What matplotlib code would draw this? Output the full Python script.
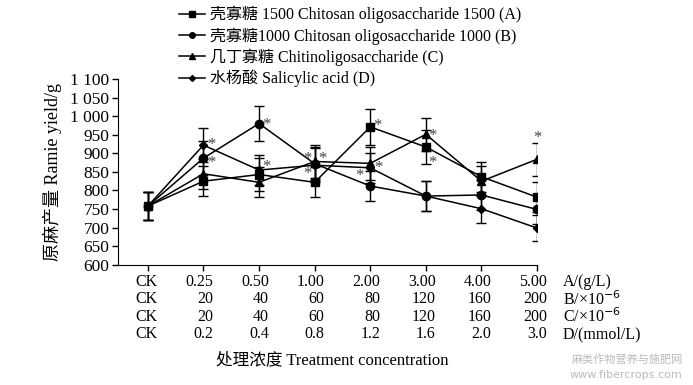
import numpy as np
import matplotlib
matplotlib.use("Agg")
import matplotlib.pyplot as plt
from matplotlib.lines import Line2D

plt.rcParams['font.family'] = ['Liberation Serif', 'Noto Sans CJK SC', 'DejaVu Sans']
plt.rcParams['axes.unicode_minus'] = False

# treatment levels (row labels under the x axis)
row_a = ['CK', '0.25', '0.50', '1.00', '2.00', '3.00', '4.00', '5.00']
row_b = ['CK', '20', '40', '60', '80', '120', '160', '200']
row_c = ['CK', '20', '40', '60', '80', '120', '160', '200']
row_d = ['CK', '0.2', '0.4', '0.8', '1.2', '1.6', '2.0', '3.0']
row_names = ['A/(g/L)', 'B/×10$^{-6}$', 'C/×10$^{-6}$', 'D/(mmol/L)']

# ramie yield (g)
yield_a = [758, 825, 843, 822, 971, 917, 837, 782]
yield_b = [758, 887, 980, 872, 812, 785, 788, 749]
yield_c = [758, 845, 822, 878, 873, 951, 825, 884]
yield_d = [758, 922, 855, 868, 861, 785, 751, 699]
err_a = [38, 40, 45, 40, 48, 45, 40, 40]
err_b = [38, 45, 48, 45, 40, 40, 40, 38]
err_c = [38, 40, 40, 45, 45, 45, 40, 45]
err_d = [38, 45, 40, 45, 40, 40, 38, 35]

labels = ['壳寡糖 1500 Chitosan oligosaccharide 1500 (A)',
          '壳寡糖1000 Chitosan oligosaccharide 1000 (B)',
          '几丁寡糖 Chitinoligosaccharide (C)',
          '水杨酸 Salicylic acid (D)']

# significance stars: (series, x index, dx px, dy px)
stars = [('D', 1, 8, 4), ('B', 1, 8, -1),
         ('B', 2, 7, 3), ('D', 2, 7, 7),
         ('C', 3, -7, 7), ('C', 3, 8, 7), ('C', 3, -7, -8),
         ('A', 4, 7, 5), ('C', 4, 8, 0), ('D', 4, -11, -4),
         ('C', 5, 7, 3), ('A', 5, 7, -12),
         ('C', 7, 0, 25)]

x = np.arange(len(row_a))
series = {'A': (yield_a, err_a, 's', 6, 5),
          'B': (yield_b, err_b, 'o', 6, 4),
          'C': (yield_c, err_c, '^', 6, 5),
          'D': (yield_d, err_d, 'D', 4, 3)}

fig = plt.figure(figsize=(6.93, 3.85), dpi=100)
ax = fig.add_axes([0.170, 0.312, 0.605, 0.483])

handles = []
for key, lab in zip('ABCD', labels):
    y, e, m, ms, lms = series[key]
    ax.errorbar(x, y, yerr=e, color='black', marker=m, markersize=ms,
                linewidth=1.1, elinewidth=1.0, capsize=3.5, capthick=1.0)
    handles.append(Line2D([], [], color='black', marker=m, markersize=lms,
                          linewidth=1.1))

for key, i, dx, dy in stars:
    y = series[key][0]
    ax.annotate('*', (x[i], y[i]), xytext=(dx * 0.72, dy * 0.72 - 3),
                textcoords='offset points', ha='center', va='center',
                fontsize=12, color='#444444')

ax.set_xlim(-0.54, 7)
ax.set_ylim(600, 1100)
yt = np.arange(600, 1101, 50)
ax.set_yticks(yt)
ax.set_yticklabels([f'{v:,}'.replace(',', ' ') for v in yt])
ax.set_xticks(x)
ax.set_xticklabels([])
ax.spines['top'].set_visible(False)
ax.spines['right'].set_visible(False)
ax.tick_params(direction='out', length=4, width=1, labelsize=12.5, pad=2)
ax.set_ylabel('原麻产量 Ramie yield/g', fontsize=13, labelpad=6)

# rows of concentration labels under the axis
for r, row in enumerate([row_a, row_b, row_c, row_d]):
    dy = -(17 + r * 17.5) * 0.72
    for i, t in enumerate(row):
        ax.annotate(t, (x[i], 0), xycoords=('data', 'axes fraction'),
                    xytext=(10 * 0.72, dy), textcoords='offset points',
                    ha='right', va='center', fontsize=11.5)
    ax.annotate(row_names[r], (x[-1], 0), xycoords=('data', 'axes fraction'),
                xytext=(26 * 0.72, dy), textcoords='offset points',
                ha='left', va='center', fontsize=11.5)

fig.text(0.48, 0.065, '处理浓度 Treatment concentration', ha='center',
         va='center', fontsize=12)

fig.legend(handles=handles, labels=labels, loc='upper left',
           bbox_to_anchor=(0.245, 1.01), frameon=False, fontsize=11.5,
           handlelength=1.6, handletextpad=0.3, labelspacing=0.25,
           borderaxespad=0.2)

fig.text(0.985, 0.065, '麻类作物营养与施肥网', ha='right', va='center',
         fontsize=8, color='#bbbbbb', family=['Noto Sans CJK SC'])
fig.text(0.985, 0.025, 'www.fibercrops.com', ha='right', va='center',
         fontsize=8, color='#bbbbbb', family=['DejaVu Sans'])

fig.savefig('out.png', dpi=100)
